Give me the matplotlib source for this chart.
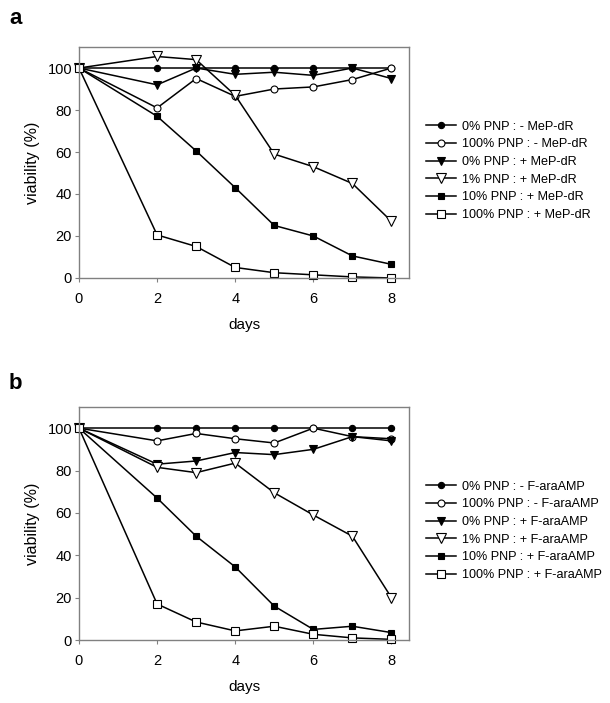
import matplotlib
matplotlib.use("Agg")
import matplotlib.pyplot as plt

plt.rcParams['font.family'] = ['Liberation Sans', 'DejaVu Sans']

days = [0, 2, 3, 4, 5, 6, 7, 8]

# panel a: MeP-dR
labels_a = ["0% PNP : - MeP-dR", "100% PNP : - MeP-dR", "0% PNP : + MeP-dR",
            "1% PNP : + MeP-dR", "10% PNP : + MeP-dR", "100% PNP : + MeP-dR"]
a_ctrl = [100, 100, 100, 100, 100, 100, 100, 100]
a_pnp100 = [100, 81, 95, 86.5, 90, 91, 94.5, 100]
a_drug = [100, 92, 100, 97, 98, 96.5, 100, 95]
a_pnp1 = [100, 105.5, 104, 87, 59, 53, 45, 27]
a_pnp10 = [100, 77, 60.5, 43, 25, 20, 10.5, 6.5]
a_pnp100d = [100, 20.5, 15, 5, 2.5, 1.5, 0.5, 0]

# panel b: F-araAMP
labels_b = ["0% PNP : - F-araAMP", "100% PNP : - F-araAMP", "0% PNP : + F-araAMP",
            "1% PNP : + F-araAMP", "10% PNP : + F-araAMP", "100% PNP : + F-araAMP"]
b_ctrl = [100, 100, 100, 100, 100, 100, 100, 100]
b_pnp100 = [100, 94, 97.5, 95, 93, 100, 96, 95]
b_drug = [100, 83, 84.5, 88.5, 87.5, 90, 96, 94]
b_pnp1 = [100, 81.5, 79, 83.5, 69.5, 59, 49, 20]
b_pnp10 = [100, 67, 49, 34.5, 16, 5, 6.5, 3.5]
b_pnp100d = [100, 17, 8.5, 4.3, 6.5, 2.7, 1, 0.3]

styles = [dict(marker='o', mfc='black', ms=4.5),
          dict(marker='o', mfc='white', ms=5),
          dict(marker='v', mfc='black', ms=6),
          dict(marker='v', mfc='white', ms=6.5),
          dict(marker='s', mfc='black', ms=5),
          dict(marker='s', mfc='white', ms=5.5)]

fig = plt.figure(figsize=(6.1, 7.03), dpi=100)


def panel(rect, series, labels, letter, letter_y, leg_y):
    ax = fig.add_axes(rect)
    for vals, lab, st in zip(series, labels, styles):
        ax.plot(days, vals, color='black', lw=1.1, mec='black', mew=0.8,
                label=lab, clip_on=False, **st)
    ax.set_xlim(0, 8.45)
    ax.set_ylim(0, 110)
    ax.set_xticks([0, 2, 4, 6, 8])
    ax.set_yticks([0, 20, 40, 60, 80, 100])
    for s in ax.spines.values():
        s.set_color('#808080')
        s.set_linewidth(1.0)
    ax.tick_params(direction='out', length=3, color='#808080', labelsize=10.5)
    ax.tick_params(axis='x', pad=7)
    ax.tick_params(axis='y', pad=2)
    ax.set_xlabel("days", fontsize=11, labelpad=9)
    ax.set_ylabel("viability (%)", fontsize=11.5, labelpad=5)
    fig.text(9 / 610, letter_y, letter, fontsize=16, fontweight='bold',
             ha='left', va='top')
    ax.legend(loc='center left', bbox_to_anchor=(0.698, leg_y),
              bbox_transform=fig.transFigure, frameon=False, fontsize=9.1,
              handlelength=2.4, handletextpad=0.5, labelspacing=0.45,
              borderpad=0, borderaxespad=0)
    return ax


panel([0.1295, 0.6046, 0.541, 0.3285],
      [a_ctrl, a_pnp100, a_drug, a_pnp1, a_pnp10, a_pnp100d], labels_a, 'a',
      1 - 8 / 703, 0.757)
panel([0.1295, 0.0896, 0.541, 0.3315],
      [b_ctrl, b_pnp100, b_drug, b_pnp1, b_pnp10, b_pnp100d], labels_b, 'b',
      1 - 373 / 703, 0.2448)

fig.savefig("out.png", dpi=100)
